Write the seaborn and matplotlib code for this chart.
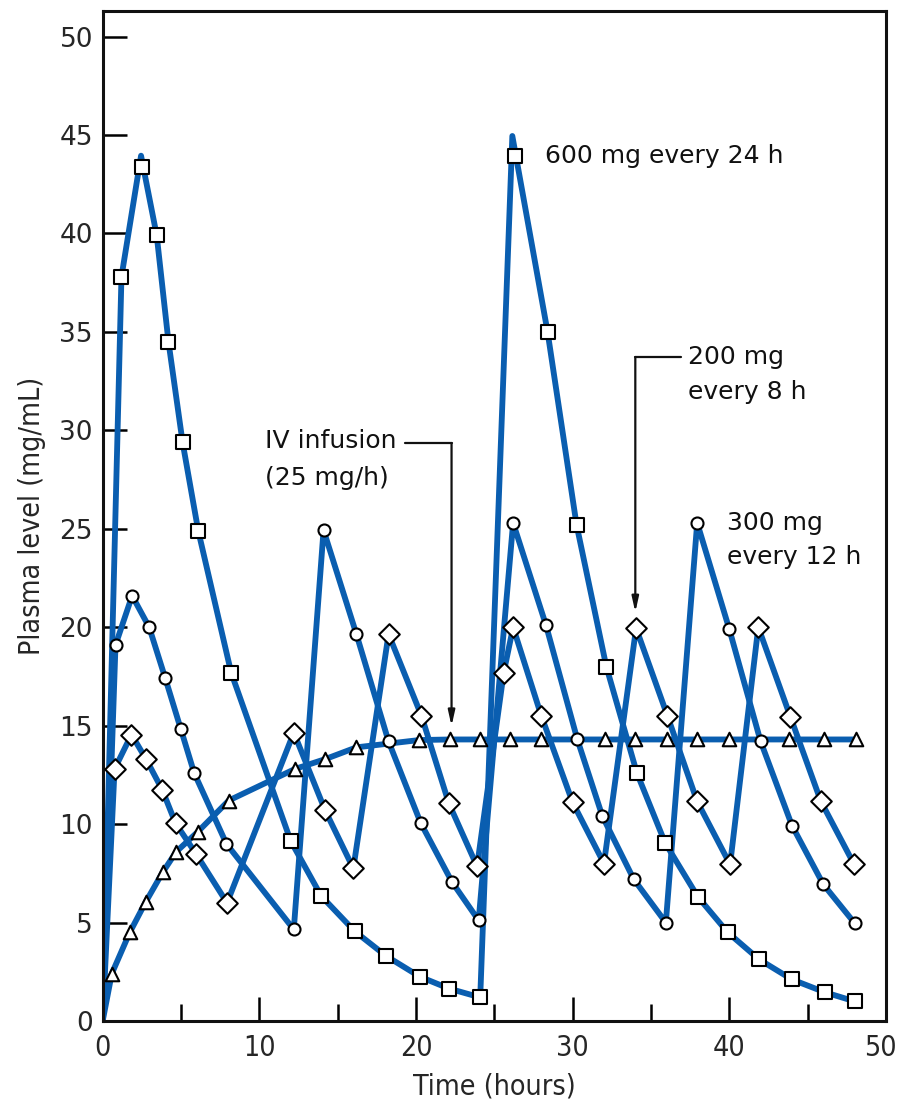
import matplotlib
matplotlib.use("Agg")
import matplotlib.pyplot as plt
from matplotlib import font_manager as fm
from matplotlib.ticker import MultipleLocator
import matplotlib.transforms as mtransforms
import seaborn as sns

# ---------------- data ----------------
# 600 mg every 24 h (squares)
sq_t = [1.2, 2.5, 3.45, 4.2, 5.1, 6.1, 8.2, 12.0, 13.95, 16.1, 18.1, 20.25, 22.1, 24.1,
        26.3, 28.4, 30.25, 32.15, 34.1, 35.9, 38.0, 39.9, 41.9, 44.0, 46.1, 48.0]
sq_v = [37.8, 43.35, 39.9, 34.5, 29.4, 24.9, 17.7, 9.15, 6.35, 4.55, 3.3, 2.25, 1.65, 1.2,
        43.95, 35.0, 25.2, 18.0, 12.6, 9.05, 6.3, 4.5, 3.13, 2.11, 1.46, 1.0]
sq_line_t = [0, 1.2, 2.45, 3.45, 4.2, 5.1, 6.1, 8.2, 12.0, 13.95, 16.1, 18.1, 20.25, 22.1, 24.1,
             26.15, 28.4, 30.25, 32.15, 34.1, 35.9, 38.0, 39.9, 41.9, 44.0, 46.1, 48.0]
sq_line_v = [0, 37.8, 43.95, 39.9, 34.5, 29.4, 24.9, 17.7, 9.15, 6.35, 4.55, 3.3, 2.25, 1.65, 1.2,
             44.95, 35.0, 25.2, 18.0, 12.6, 9.05, 6.3, 4.5, 3.13, 2.11, 1.46, 1.0]

# 300 mg every 12 h (circles)
ci_t = [0.82, 1.88, 2.97, 4.0, 4.98, 5.84, 7.9, 12.2, 14.1, 16.2, 18.25, 20.3, 22.3, 24.0,
        26.2, 28.3, 30.3, 31.9, 33.9, 35.95, 37.95, 40.0, 42.0, 44.0, 46.0, 48.0]
ci_v = [19.1, 21.6, 20.0, 17.4, 14.85, 12.6, 9.0, 4.65, 24.93, 19.64, 14.2, 10.06, 7.06, 5.11,
        25.3, 20.1, 14.3, 10.4, 7.2, 5.0, 25.3, 19.9, 14.2, 9.93, 6.94, 4.97]

# 200 mg every 8 h (diamonds)
di_t = [0.76, 1.84, 2.77, 3.8, 4.65, 5.95, 7.94, 12.2, 14.2, 16.0, 18.25, 20.35, 22.1, 23.9,
        25.6, 26.2, 28.0, 30.0, 32.0, 34.05, 36.05, 37.95, 40.05, 41.85, 43.9, 45.85, 47.97]
di_v = [12.8, 14.55, 13.3, 11.75, 10.05, 8.5, 6.0, 14.65, 10.7, 7.75, 19.65, 15.5, 11.05, 7.85,
        17.7, 20.0, 15.5, 11.1, 8.0, 19.95, 15.5, 11.15, 7.95, 20.0, 15.45, 11.15, 7.95]

# IV infusion 25 mg/h (triangles)
tr_t = [0.58, 1.73, 2.75, 3.83, 4.7, 6.06, 8.05, 12.27, 14.2, 16.2, 20.2, 22.2, 24.1, 26.0,
        28.0, 32.05, 34.0, 36.0, 37.96, 39.95, 43.8, 46.05, 48.1]
tr_v = [2.4, 4.5, 6.05, 7.55, 8.6, 9.6, 11.2, 12.8, 13.3, 13.9, 14.27, 14.3, 14.3, 14.3,
        14.3, 14.3, 14.3, 14.3, 14.3, 14.3, 14.3, 14.3, 14.3]

x_ticks = [0, 10, 20, 30, 40, 50]
y_ticks = [0, 5, 10, 15, 20, 25, 30, 35, 40, 45, 50]

# ---------------- style ----------------
sns.set_style("ticks")
avail = {f.name for f in fm.fontManager.ttflist}
cond_kw = {}
if "Liberation Sans Narrow" in avail:
    COND = "Liberation Sans Narrow"
elif any(f.name == "DejaVu Sans" and "condensed" in str(f.stretch) for f in fm.fontManager.ttflist):
    COND = "DejaVu Sans"
    cond_kw = {"fontstretch": "condensed"}
else:
    COND = "DejaVu Sans"
plt.rcParams["font.family"] = ["DejaVu Sans"]

BLUE = "#0a5eb0"
LW = 4.2

fig = plt.figure(figsize=(8.99, 11.08), dpi=100)
ax = fig.add_axes([0.1142, 0.0785, 0.9855 - 0.1142, 0.9901 - 0.0785])

line_sets = [
    ([0] + tr_t, [0] + tr_v),
    ([0] + di_t, [0] + di_v),
    ([0] + ci_t, [0] + ci_v),
    (sq_line_t, sq_line_v),
]
for xs, ys in line_sets:
    sns.lineplot(x=xs, y=ys, ax=ax, sort=False, estimator=None, color=BLUE,
                 linewidth=LW, zorder=2)

mk_kw = dict(color="white", edgecolor="black", linewidth=1.5, zorder=5, ax=ax, legend=False)
sns.scatterplot(x=tr_t, y=tr_v, marker="^", s=95, **mk_kw)
sns.scatterplot(x=di_t, y=di_v, marker="D", s=110, **mk_kw)
sns.scatterplot(x=ci_t, y=ci_v, marker="o", s=75, **mk_kw)
sns.scatterplot(x=sq_t, y=sq_v, marker="s", s=110, **mk_kw)

ax.set_xlim(0, 50)
ax.set_ylim(0, 51.3)
ax.set_xticks(x_ticks)
ax.set_yticks(y_ticks)
ax.xaxis.set_minor_locator(MultipleLocator(5))
ax.set_xticklabels([str(v) for v in x_ticks], family=COND, fontsize=20.5, **cond_kw)
ax.set_yticklabels([str(v) for v in y_ticks], family="DejaVu Sans", fontsize=19)
ax.tick_params(axis="y", which="major", direction="in", length=17, width=1.8, pad=7, color="black")
ax.tick_params(axis="x", which="major", direction="in", length=17, width=1.8, pad=9, color="black")
ax.tick_params(axis="x", which="minor", direction="in", length=12, width=1.8, color="black")

# nudge the last x tick label inward so it stays inside the figure
last = ax.get_xticklabels()[-1]
last.set_transform(last.get_transform() +
                   mtransforms.ScaledTranslation(-6 / 100, 0, fig.dpi_scale_trans))

for side in ["left", "bottom", "top", "right"]:
    ax.spines[side].set_visible(True)
    ax.spines[side].set_linewidth(2.2)
    ax.spines[side].set_color("#111111")

ax.set_xlabel("Time (hours)", family=COND, fontsize=20.5, labelpad=8, **cond_kw)
ax.set_ylabel("Plasma level (mg/mL)", family=COND, fontsize=20.5, labelpad=10, **cond_kw)

# ---------------- annotations ----------------
TXT = dict(fontsize=18, ha="left", va="center", family="DejaVu Sans", color="#111111")
ax.text(28.23, 43.95, "600 mg every 24 h", **TXT)
ax.text(10.37, 29.45, "IV infusion", **TXT)
ax.text(10.37, 27.6, "(25 mg/h)", **TXT)
ax.text(37.35, 33.72, "200 mg", **TXT)
ax.text(37.35, 31.95, "every 8 h", **TXT)
ax.text(39.84, 25.3, "300 mg", **TXT)
ax.text(39.84, 23.55, "every 12 h", **TXT)

arrow_kw = dict(arrowstyle="-|>,head_length=0.9,head_width=0.2", color="#111111", lw=1.6,
                shrinkA=0, shrinkB=0)
# IV infusion arrow
ax.plot([19.3, 22.27], [29.35, 29.35], color="#111111", lw=1.6, zorder=3)
ax.annotate("", xy=(22.27, 14.98), xytext=(22.27, 29.35),
            arrowprops=arrow_kw, zorder=3)
# 200 mg arrow
ax.plot([36.9, 34.0], [33.72, 33.72], color="#111111", lw=1.6, zorder=3)
ax.annotate("", xy=(34.0, 20.76), xytext=(34.0, 33.72),
            arrowprops=arrow_kw, zorder=3)

fig.savefig("out.png", dpi=100)
